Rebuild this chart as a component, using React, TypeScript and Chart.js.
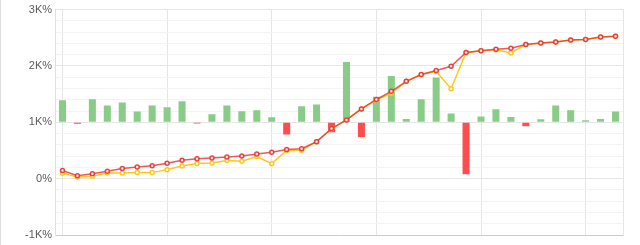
import React, { useEffect, useRef } from 'react';
import { Chart, registerables } from 'chart.js';

Chart.register(...registerables);

const categories = [
  '1', '2', '3', '4', '5', '6', '7', '8', '9', '10',
  '11', '12', '13', '14', '15', '16', '17', '18', '19', '20',
  '21', '22', '23', '24', '25', '26', '27', '28', '29', '30',
  '31', '32', '33', '34', '35', '36', '37', '38',
];

// Red line (%)
const redLine = [
  146, 53, 85, 130, 181, 207, 230, 275, 327, 353,
  368, 383, 400, 438, 467, 519, 531, 657, 888, 1043,
  1238, 1405, 1549, 1727, 1847, 1920, 1993, 2238, 2268, 2295,
  2314, 2381, 2406, 2426, 2461, 2470, 2514, 2526,
];

// Yellow line (%)
const yellowLine = [
  98, 30, 43, 100, 102, 110, 107, 160, 225, 268,
  278, 321, 309, 391, 266, 500, 505, 657, 885, 1043,
  1238, 1395, 1514, 1727, 1847, 1900, 1596, 2238, 2268, 2287,
  2230, 2381, 2406, 2426, 2461, 2470, 2514, 2526,
];

// Bars (%), drawn on a secondary axis whose zero sits at the 1K% line
const barValues = [
  390, -25, 408, 300, 350, 193, 298, 268, 373, -20,
  145, 298, 198, 215, 88, -217, 285, 315, -175, 1068,
  -263, 455, 823, 58, 408, 793, 158, -922, 105, 233,
  93, -70, 53, 298, 215, 35, 58, 193,
];

const yMin = -1000;
const yMax = 3000;
const yStep = 200;

const FONT = "'Liberation Sans', Arial, Helvetica, sans-serif";

function formatTick(v: number): string {
  if (v % 1000 !== 0) return '';
  if (v === 0) return '0%';
  return v / 1000 + 'K%';
}

export default function App() {
  const ref = useRef<HTMLCanvasElement>(null);

  useEffect(() => {
    document.body.style.margin = '0';
    const chart = new Chart(ref.current as HTMLCanvasElement, {
      type: 'bar',
      data: {
        labels: categories,
        datasets: [
          {
            type: 'line',
            label: 'red',
            data: redLine,
            yAxisID: 'y',
            borderColor: 'rgba(228,50,50,0.8)',
            backgroundColor: 'rgba(228,50,50,0.8)',
            borderWidth: 1.5,
            pointRadius: 2,
            pointBorderWidth: 1.5,
            pointBackgroundColor: '#ffe9e9',
            pointBorderColor: 'rgba(228,50,50,0.9)',
            tension: 0,
            order: 0,
          } as any,
          {
            type: 'line',
            label: 'yellow',
            data: yellowLine,
            yAxisID: 'y',
            borderColor: '#ffc61a',
            backgroundColor: '#ffc61a',
            borderWidth: 1.5,
            pointRadius: 2,
            pointBorderWidth: 1.5,
            pointBackgroundColor: '#ffffff',
            pointBorderColor: '#ffc61a',
            tension: 0,
            order: 1,
          } as any,
          {
            type: 'bar',
            label: 'bars',
            data: barValues,
            yAxisID: 'y2',
            backgroundColor: (ctx: any) => (ctx.raw >= 0 ? '#88cc88' : '#ff4d4d'),
            borderWidth: 0,
            barPercentage: 0.47,
            categoryPercentage: 1,
            order: 2,
          } as any,
        ],
      },
      options: {
        responsive: false,
        animation: false,
        layout: { padding: { top: 8, right: 17, bottom: 10, left: 0 } },
        plugins: {
          legend: { display: false },
          tooltip: { enabled: false },
        },
        scales: {
          x: {
            offset: true,
            grid: {
              offset: false,
              drawTicks: false,
              color: (ctx: any) => (ctx.index % 7 === 0 ? '#e6e6e6' : 'rgba(0,0,0,0)'),
            },
            border: { color: '#c8ccd6' },
            ticks: { display: false, autoSkip: false },
          },
          y: {
            position: 'left',
            min: yMin,
            max: yMax,
            ticks: {
              stepSize: yStep,
              autoSkip: false,
              padding: 3,
              color: '#5a5a5a',
              font: { size: 11, family: FONT },
              callback: (v: any) => formatTick(Number(v)),
            },
            grid: {
              drawTicks: false,
              color: (ctx: any) =>
                ctx.tick && ctx.tick.value % 1000 === 0 ? '#e6e6e6' : '#f3f3f3',
            },
            border: { color: '#e0e0e0' },
            afterFit: (s: any) => {
              s.width = 54;
            },
          } as any,
          y2: {
            position: 'right',
            min: -2000,
            max: 2000,
            display: true,
            ticks: { display: false },
            grid: { drawOnChartArea: false, drawTicks: false },
            border: { color: '#e6e6e6' },
          },
        },
      },
    });
    return () => chart.destroy();
  }, []);

  return (
    <div
      style={{
        width: 640,
        height: 245,
        borderLeft: '1px solid #dedede',
        boxSizing: 'border-box',
        background: '#fff',
      }}
    >
      <canvas ref={ref} width={639} height={245} style={{ display: 'block' }} />
    </div>
  );
}
